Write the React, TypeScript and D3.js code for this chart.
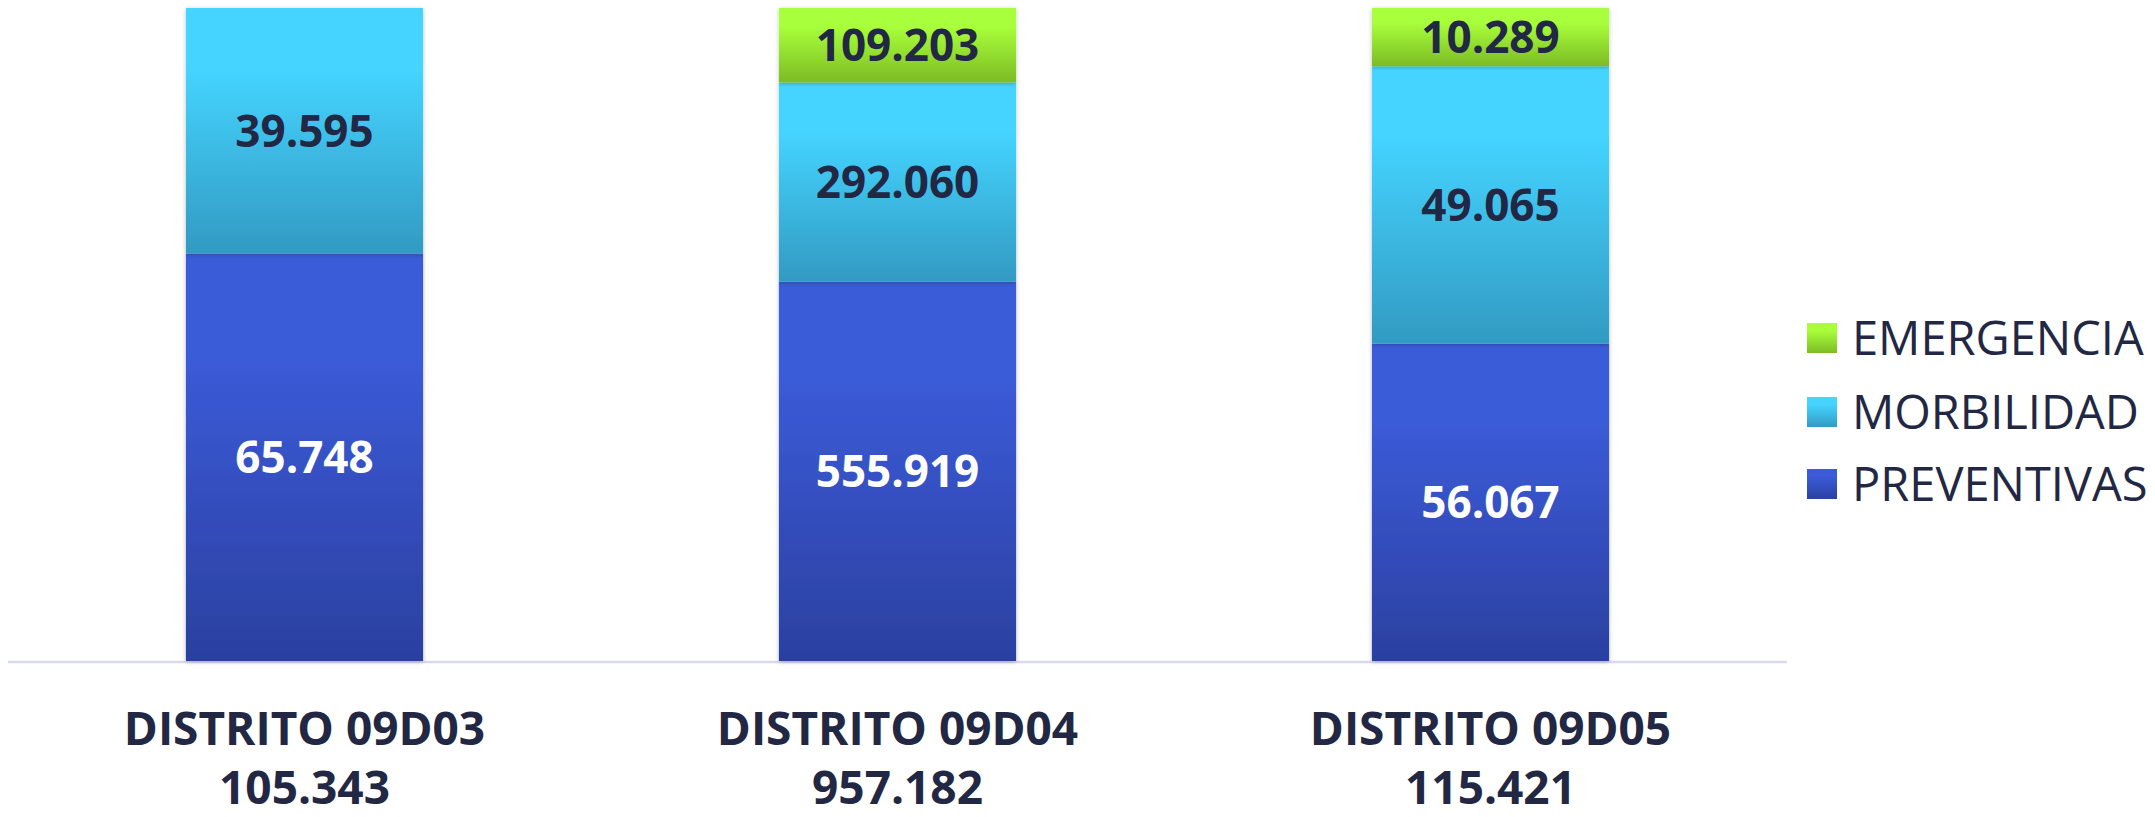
import React from "react";
import * as d3 from "d3";

const categories = ["DISTRITO 09D03", "DISTRITO 09D04", "DISTRITO 09D05"];
const totals = ["105.343", "957.182", "115.421"];
const preventivas = [65748, 555919, 56067];
const morbilidad = [39595, 292060, 49065];
const emergencia = [0, 109203, 10289];
const seriesNames = ["PREVENTIVAS", "MORBILIDAD", "EMERGENCIA"];
const seriesColors = [
  ["#3b5bd8", "#2b40a0"],
  ["#44d4ff", "#329ac2"],
  ["#a8ff3a", "#7dbb25"],
];
const labelColors = ["#ffffff", "#222744", "#222744"];

const W = 2155;
const H = 817;
const M = { left: 8, right: 368, top: 8, bottom: 156 };

const fmt = (v: number) => d3.format(",")(v).replace(/,/g, ".");

export default function App() {
  const rows = categories.map((c, i) => ({
    cat: c,
    PREVENTIVAS: preventivas[i],
    MORBILIDAD: morbilidad[i],
    EMERGENCIA: emergencia[i],
  }));
  const stack = d3
    .stack<any>()
    .keys(seriesNames)
    .offset(d3.stackOffsetExpand);
  const stacked = stack(rows);

  const x = d3
    .scaleBand<string>()
    .domain(categories)
    .range([M.left, W - M.right])
    .paddingInner(0.6)
    .paddingOuter(0.3);
  const y = d3.scaleLinear().domain([0, 1]).range([H - M.bottom, M.top]);

  const font = "'Open Sans', sans-serif";
  const legendY = [338, 412, 484];

  return (
    <svg
      width={W}
      height={H}
      style={{ position: "absolute", left: 0, top: 0, background: "#fff" }}
    >
      <defs>
        {seriesColors.map((c, i) => (
          <linearGradient key={i} id={`g${i}`} x1="0" y1="0" x2="0" y2="1">
            <stop offset="0" stopColor={c[0]} />
            <stop offset="0.25" stopColor={c[0]} />
            <stop offset="1" stopColor={c[1]} />
          </linearGradient>
        ))}
        <filter id="sh" x="-5%" y="-5%" width="110%" height="110%">
          <feDropShadow dx="0" dy="1" stdDeviation="2" floodColor="#000" floodOpacity="0.25" />
        </filter>
      </defs>
      <line
        x1={M.left}
        x2={W - M.right}
        y1={y(0) + 1}
        y2={y(0) + 1}
        stroke="#d8dbef"
        strokeWidth={2.5}
      />
      {stacked.map((s, si) =>
        s.map((d, ci) => {
          const v = (rows[ci] as any)[seriesNames[si]];
          if (!v) return null;
          const y0 = y(d[0]);
          const y1 = y(d[1]);
          return (
            <g key={`${si}-${ci}`}>
              <rect
                x={x(categories[ci])}
                y={y1}
                width={x.bandwidth()}
                height={y0 - y1}
                fill={`url(#g${si})`}
                filter="url(#sh)"
              />
            </g>
          );
        })
      )}
      {stacked.map((s, si) =>
        s.map((d, ci) => {
          const v = (rows[ci] as any)[seriesNames[si]];
          if (!v) return null;
          const yc = (y(d[0]) + y(d[1])) / 2;
          return (
            <text
              key={`t${si}-${ci}`}
              x={(x(categories[ci]) as number) + x.bandwidth() / 2}
              y={yc}
              dy="0.36em"
              textAnchor="middle"
              fontFamily={font}
              fontWeight={700}
              fontSize={44}
              fill={labelColors[si]}
            >
              {fmt(v)}
            </text>
          );
        })
      )}
      {categories.map((c, i) => (
        <g key={c} fontFamily={font} fontWeight={700} fontSize={46} fill="#222744" textAnchor="middle">
          <text x={(x(c) as number) + x.bandwidth() / 2} y={745}>
            {c}
          </text>
          <text x={(x(c) as number) + x.bandwidth() / 2} y={804}>
            {totals[i]}
          </text>
        </g>
      ))}
      {[2, 1, 0].map((si, k) => (
        <g key={si}>
          <rect x={1807} y={legendY[k] - 15} width={30} height={30} fill={`url(#g${si})`} />
          <text
            x={1852}
            y={legendY[k]}
            dy="0.36em"
            fontFamily={font}
            fontSize={47}
            fill="#222744"
          >
            {seriesNames[si]}
          </text>
        </g>
      ))}
    </svg>
  );
}
